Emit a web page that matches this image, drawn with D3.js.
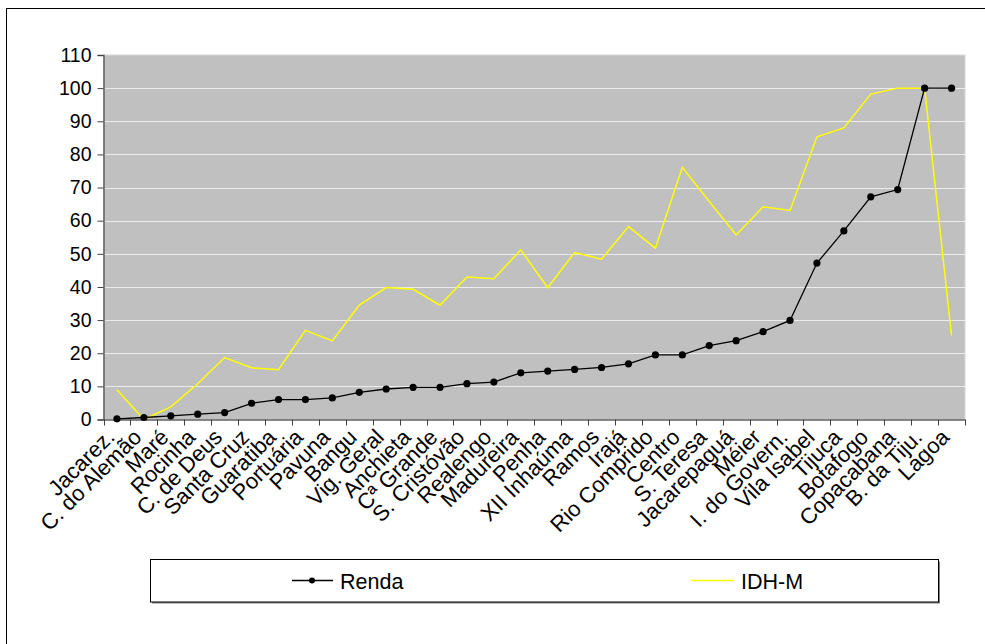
<!DOCTYPE html>
<html>
<head>
<meta charset="utf-8">
<script src="https://cdn.jsdelivr.net/npm/d3@7/dist/d3.min.js"></script>
<style>
  html, body { margin: 0; padding: 0; background: #fff; }
  svg text { font-family: "Liberation Sans", Arial, sans-serif; fill: #000; }
</style>
</head>
<body>
<svg id="chart" width="985" height="644"></svg>
<script>
// Regiões administrativas do Rio de Janeiro, ordenadas por renda
const categories = [
  "Jacarez.", "C. do Alemão", "Maré", "Rocinha", "C. de Deus", "Santa Cruz",
  "Guaratiba", "Portuária", "Pavuna", "Bangu", "Vig. Geral", "Anchieta",
  "Cª Grande", "S. Cristóvão", "Realengo", "Madureira", "Penha", "XII Inhaúma",
  "Ramos", "Irajá", "Rio Comprido", "Centro", "S. Teresa", "Jacarepaguá",
  "Méier", "I. do Govern.", "Vila Isabel", "Tijuca", "Botafogo", "Copacabana",
  "B. da Tiju.", "Lagoa"
];
const renda = [
  0.2, 0.6, 1.1, 1.6, 2.1, 4.9, 6.0, 6.0, 6.5, 8.2,
  9.2, 9.7, 9.7, 10.8, 11.3, 14.1, 14.6, 15.1, 15.7, 16.8,
  19.5, 19.5, 22.3, 23.8, 26.5, 29.9, 47.2, 56.9, 67.2, 69.4,
  100, 100
];
const idhm = [
  9.0, 0.0, 3.8, 10.8, 18.7, 15.6, 15.0, 26.9, 23.7, 34.5,
  39.8, 39.3, 34.5, 43.0, 42.5, 51.2, 39.8, 50.4, 48.4, 58.2,
  51.7, 76.1, 65.8, 55.7, 64.2, 63.1, 85.3, 88.0, 98.2, 100,
  100, 25.3
];
const yTicks = [0, 10, 20, 30, 40, 50, 60, 70, 80, 90, 100, 110];
const seriesNames = ["Renda", "IDH-M"];

const svg = d3.select("#chart");
const plot = { left: 103.5, right: 965, top: 55, bottom: 419.5 };

// outer frame (only top and left edges fall inside the canvas)
svg.append("rect")
  .attr("x", 6.5).attr("y", 8.5)
  .attr("width", 1000).attr("height", 700)
  .attr("fill", "none").attr("stroke", "#000").attr("stroke-width", 1);

const x = d3.scaleBand().domain(categories).range([plot.left, plot.right]).padding(0);
const y = d3.scaleLinear().domain([0, 110]).range([plot.bottom, plot.top]);
const cx = c => x(c) + x.bandwidth() / 2;

// plot area
svg.append("rect")
  .attr("x", plot.left).attr("y", plot.top)
  .attr("width", plot.right - plot.left).attr("height", plot.bottom - plot.top)
  .attr("fill", "#c0c0c0").attr("stroke", "#d8d8d8").attr("stroke-width", 1);

// horizontal gridlines
svg.append("g").selectAll("line")
  .data(yTicks.filter(v => v > 0 && v < 110))
  .join("line")
  .attr("x1", plot.left).attr("x2", plot.right)
  .attr("y1", d => Math.round(y(d)) + 0.5).attr("y2", d => Math.round(y(d)) + 0.5)
  .attr("stroke", "#ececec").attr("stroke-width", 1.2);

// y axis
const yAxis = svg.append("g")
  .attr("transform", `translate(${plot.left},0)`)
  .call(d3.axisLeft(y).tickValues(yTicks).tickSize(6).tickPadding(6).tickFormat(d3.format("d")));
yAxis.select(".domain").attr("stroke", "#606060").attr("stroke-width", 1.5);
yAxis.selectAll(".tick line").attr("stroke", "#404040");
yAxis.selectAll("text").attr("font-size", 19.5).style("font-family", '"Liberation Sans", Arial, sans-serif');

// x axis line and boundary ticks
const xAxis = svg.append("g");
xAxis.append("line")
  .attr("x1", plot.left).attr("x2", plot.right)
  .attr("y1", plot.bottom + 0.5).attr("y2", plot.bottom + 0.5)
  .attr("stroke", "#606060").attr("stroke-width", 1.5);
const bounds = categories.map(c => x(c)).concat([x.range()[1]]);
xAxis.selectAll("line.tk")
  .data(bounds)
  .join("line").attr("class", "tk")
  .attr("x1", d => Math.round(d) + 0.5).attr("x2", d => Math.round(d) + 0.5)
  .attr("y1", plot.bottom).attr("y2", plot.bottom + 6)
  .attr("stroke", "#404040").attr("stroke-width", 1);

// rotated category labels
xAxis.selectAll("text")
  .data(categories)
  .join("text")
  .attr("text-anchor", "end")
  .attr("font-size", 22)
  .attr("transform", d => `translate(${cx(d) - 1},${plot.bottom + 19}) rotate(-45)`)
  .text(d => d);

// IDH-M line
const line = d3.line().x((d, i) => cx(categories[i])).y(d => y(d));
svg.append("path")
  .datum(idhm)
  .attr("d", line)
  .attr("fill", "none").attr("stroke", "#ffff00").attr("stroke-width", 1.5);

// Renda line with markers
svg.append("path")
  .datum(renda)
  .attr("d", line)
  .attr("fill", "none").attr("stroke", "#000").attr("stroke-width", 1.3);
svg.append("g").selectAll("circle")
  .data(renda)
  .join("circle")
  .attr("cx", (d, i) => cx(categories[i]))
  .attr("cy", d => y(d))
  .attr("r", 3.6)
  .attr("fill", "#000");

// legend
const legend = svg.append("g");
legend.append("rect")
  .attr("x", 152).attr("y", 561.5).attr("width", 788).attr("height", 42)
  .attr("fill", "#808080");
legend.append("rect")
  .attr("x", 150.5).attr("y", 559.5).attr("width", 788).attr("height", 42.5)
  .attr("fill", "#fff").attr("stroke", "#000").attr("stroke-width", 1);

legend.append("line")
  .attr("x1", 292).attr("x2", 333).attr("y1", 580.5).attr("y2", 580.5)
  .attr("stroke", "#000").attr("stroke-width", 1.3);
legend.append("circle").attr("cx", 312).attr("cy", 580.5).attr("r", 3).attr("fill", "#000");
legend.append("text").attr("x", 340).attr("y", 588.5).attr("font-size", 21.5).text(seriesNames[0]);

legend.append("line")
  .attr("x1", 691).attr("x2", 734).attr("y1", 580.5).attr("y2", 580.5)
  .attr("stroke", "#ffff00").attr("stroke-width", 1.5);
legend.append("text").attr("x", 741).attr("y", 588.5).attr("font-size", 21.5).text(seriesNames[1]);
</script>
</body>
</html>
